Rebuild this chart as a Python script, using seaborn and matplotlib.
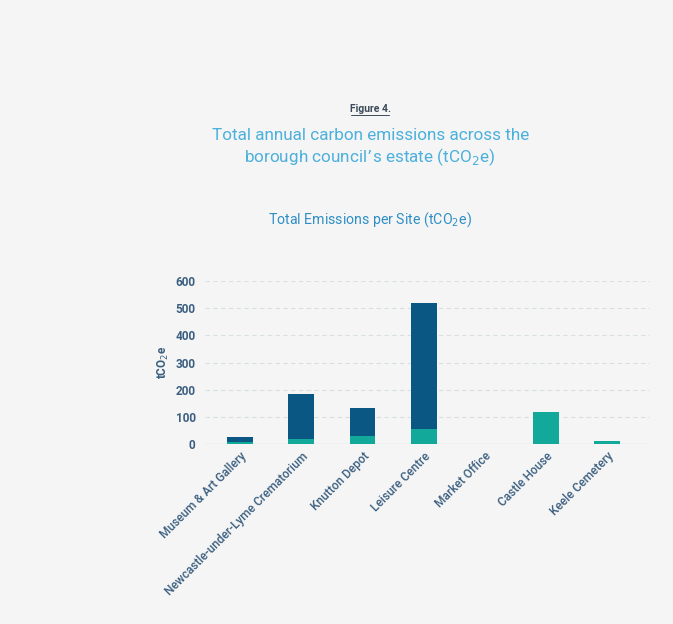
import pandas as pd
import seaborn as sb
from matplotlib import pyplot as plt

# values (tCO2e)
sites = ['Museum & Art Gallery', 'Newcastle-under-Lyme Crematorium', 'Knutton Depot',
         'Leisure Centre', 'Market Office', 'Castle House', 'Keele Cemetery']
teal_part = [8, 18, 31, 57, 0, 119, 12]
dark_part = [17, 166, 104, 462, 0, 0, 0]
y_ticks = [0, 100, 200, 300, 400, 500, 600]

DARK = '#0b5784'
TEAL = '#12a99b'
BG = '#f5f5f5'
TICK_COL = '#3b5f80'

sb.set_style('white')
plt.rcParams['font.family'] = ['Roboto', 'DejaVu Sans']

df = pd.DataFrame({'site': sites, 'teal': teal_part, 'dark': dark_part})
df['total'] = df['teal'] + df['dark']

fig = plt.figure(figsize=(6.73, 6.24), dpi=100, facecolor=BG)
ax = fig.add_axes([0.305, 0.288, 0.661, 0.262])
ax.set_facecolor(BG)

# stacked bars: draw total in dark, then the teal share over the bottom
sb.barplot(data=df, x='site', y='total', order=sites, color=DARK, width=0.42,
           saturation=1, linewidth=0, ax=ax, zorder=3)
sb.barplot(data=df, x='site', y='teal', order=sites, color=TEAL, width=0.42,
           saturation=1, linewidth=0, ax=ax, zorder=4)

ax.set_ylim(0, 600)
ax.set_xlim(-0.57, 6.7)
ax.set_yticks(y_ticks)
ax.set_yticklabels([str(t) for t in y_ticks], fontsize=8.5, color=TICK_COL, fontweight='bold')
ax.yaxis.grid(True, linestyle=(0, (4, 3)), color='#d8e0e6', linewidth=0.8, zorder=0)
ax.axhline(0, color='#d8e0e6', linewidth=1, zorder=1)
for s in ax.spines.values():
    s.set_visible(False)
ax.tick_params(axis='y', length=0, pad=7)
ax.tick_params(axis='x', length=0, pad=4)
ax.set_xticks(range(len(sites)))
ax.set_xticklabels(sites, rotation=45, ha='right', rotation_mode='anchor',
                   fontsize=8.6, color=TICK_COL, fontweight='medium')
ax.set_xlabel('')
ax.set_ylabel('tCO$_2$e', fontsize=8.5, color=TICK_COL, fontweight='bold', labelpad=3)

fig.text(0.55, 0.826, 'Figure 4.', ha='center', va='center', fontsize=7.5,
         color='#3a4a5a', fontweight='bold')
fig.add_artist(plt.Line2D([0.522, 0.578], [0.816, 0.816], color='#3a4a5a', linewidth=0.7))
fig.text(0.55, 0.763, 'Total annual carbon emissions across the\nborough council\u2019s estate (tCO$_2$e)',
         ha='center', va='center', fontsize=12.3, color='#4bb0dc', linespacing=1.25)
fig.text(0.55, 0.648, 'Total Emissions per Site (tCO$_2$e)', ha='center', va='center',
         fontsize=10.2, color='#2f8fc4')

fig.savefig('out.png', dpi=100, facecolor=BG)
